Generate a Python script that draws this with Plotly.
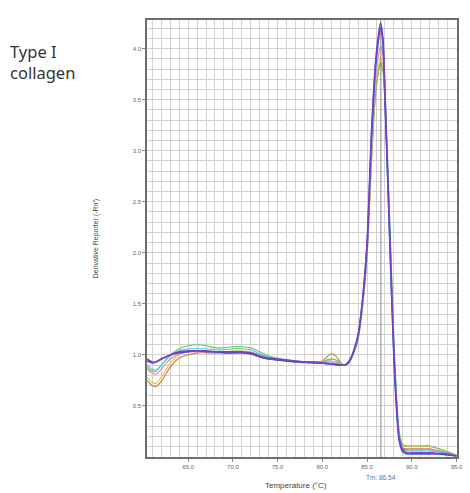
import plotly.graph_objects as go

temps = [60.4, 61.0, 61.4, 62.0, 63.0, 64.0, 65.0, 66.0, 67.0, 68.0, 69.0, 70.0, 71.0, 72.0, 73.0,
         74.0, 75.0, 76.0, 77.0, 78.0, 79.0, 80.0, 80.5, 81.0, 81.5, 82.0, 82.5, 83.0, 83.5, 84.0,
         84.5, 85.0, 85.5, 86.0, 86.5, 86.75, 87.0, 87.5, 88.0, 88.3, 88.6, 89.0, 89.5, 90.0, 91.0,
         92.0, 93.0, 94.0, 95.0]

orange = [0.75, 0.70, 0.69, 0.74, 0.88, 0.97, 1.00, 1.02, 1.02, 1.02, 1.02, 1.02, 1.02, 1.01, 0.98,
          0.96, 0.95, 0.94, 0.93, 0.93, 0.93, 0.94, 0.98, 1.01, 0.99, 0.93, 0.90, 0.93, 1.02, 1.16,
          1.48, 1.98, 2.92, 3.62, 3.86, 3.80, 3.45, 2.30, 1.05, 0.52, 0.20, 0.09, 0.08, 0.08, 0.08,
          0.08, 0.06, 0.04, 0.01]
yellow = [0.78, 0.73, 0.72, 0.78, 0.92, 1.00, 1.03, 1.04, 1.04, 1.03, 1.03, 1.04, 1.04, 1.03, 1.00,
          0.97, 0.96, 0.95, 0.94, 0.93, 0.93, 0.93, 0.95, 0.96, 0.95, 0.92, 0.90, 0.93, 1.02, 1.16,
          1.48, 1.98, 2.95, 3.65, 3.90, 3.85, 3.50, 2.35, 1.10, 0.55, 0.22, 0.11, 0.10, 0.10, 0.10,
          0.10, 0.08, 0.05, 0.02]
green = [0.88, 0.84, 0.84, 0.90, 1.00, 1.06, 1.09, 1.10, 1.09, 1.07, 1.07, 1.08, 1.08, 1.07, 1.03,
         0.99, 0.97, 0.95, 0.94, 0.93, 0.93, 0.93, 0.95, 0.96, 0.95, 0.92, 0.90, 0.93, 1.02, 1.16,
         1.48, 1.98, 2.90, 3.60, 3.84, 3.80, 3.50, 2.40, 1.15, 0.60, 0.25, 0.12, 0.11, 0.11, 0.11,
         0.11, 0.08, 0.05, 0.02]
pink = [0.86, 0.82, 0.81, 0.86, 0.96, 1.01, 1.03, 1.03, 1.03, 1.02, 1.02, 1.02, 1.02, 1.01, 0.98,
        0.96, 0.95, 0.94, 0.93, 0.92, 0.92, 0.92, 0.93, 0.93, 0.92, 0.91, 0.90, 0.93, 1.03, 1.18,
        1.50, 2.00, 3.00, 3.75, 4.02, 3.95, 3.50, 2.30, 1.05, 0.52, 0.20, 0.08, 0.07, 0.07, 0.07,
        0.07, 0.06, 0.04, 0.01]
cyan = [0.90, 0.86, 0.85, 0.90, 0.99, 1.04, 1.06, 1.06, 1.06, 1.05, 1.05, 1.06, 1.06, 1.05, 1.01,
        0.98, 0.96, 0.95, 0.94, 0.93, 0.93, 0.93, 0.94, 0.94, 0.93, 0.91, 0.90, 0.93, 1.03, 1.18,
        1.52, 2.05, 3.10, 3.85, 4.15, 4.10, 3.65, 2.40, 1.10, 0.55, 0.20, 0.08, 0.06, 0.06, 0.06,
        0.06, 0.05, 0.03, 0.01]
blue = [0.94, 0.92, 0.93, 0.96, 1.00, 1.02, 1.03, 1.04, 1.03, 1.03, 1.02, 1.02, 1.02, 1.01, 0.98,
        0.96, 0.95, 0.94, 0.93, 0.93, 0.92, 0.92, 0.91, 0.91, 0.90, 0.90, 0.90, 0.93, 1.03, 1.19,
        1.54, 2.08, 3.15, 3.88, 4.20, 4.08, 3.50, 2.20, 0.95, 0.45, 0.15, 0.05, 0.03, 0.03, 0.03,
        0.03, 0.03, 0.02, 0.01]
purple = [0.96, 0.93, 0.93, 0.96, 1.00, 1.03, 1.04, 1.04, 1.04, 1.03, 1.03, 1.03, 1.03, 1.02, 0.99,
          0.97, 0.96, 0.95, 0.94, 0.93, 0.93, 0.92, 0.92, 0.91, 0.91, 0.90, 0.90, 0.94, 1.04, 1.20,
          1.55, 2.10, 3.20, 3.92, 4.25, 4.12, 3.55, 2.25, 1.00, 0.50, 0.18, 0.07, 0.04, 0.04, 0.04,
          0.04, 0.035, 0.03, 0.01]

series_names = ["orange", "yellow", "green", "pink", "cyan", "blue", "purple"]
series_values = [orange, yellow, green, pink, cyan, blue, purple]
series_colors = ["#d27a3c", "#e6c24a", "#6cc46c", "#e58ab0", "#4fcbd8", "#3a52d6", "#7a3fc2"]
series_widths = [1.1, 1.1, 1.1, 1.1, 1.1, 1.5, 1.6]

tm_value = [86.54]
x_ticks = [65.0, 70.0, 75.0, 80.0, 85.0, 90.0, 95.0]
y_ticks = [0.5, 1.0, 1.5, 2.0, 2.5, 3.0, 3.5, 4.0]

fig = go.Figure()
for name, vals, col, w in zip(series_names, series_values, series_colors, series_widths):
    fig.add_trace(go.Scatter(x=temps, y=vals, mode="lines", name=name,
                             line=dict(color=col, width=w, shape="spline", smoothing=0.7),
                             showlegend=False, hoverinfo="skip"))

fig.add_vline(x=tm_value[0], line=dict(color="#6a6a6a", width=0.8))

grid_col = "#d2d2d2"
fig.update_xaxes(range=[60.4, 95.05], tickmode="array", tickvals=x_ticks,
                 ticktext=[f"{v:.1f}" for v in x_ticks],
                 tickfont=dict(size=6, color="#666", family="Arial"),
                 showgrid=True, gridcolor=grid_col, gridwidth=1,
                 minor=dict(dtick=1, tick0=60, showgrid=True, gridcolor=grid_col, gridwidth=1),
                 showline=True, linecolor="#6e6e6e", linewidth=1.5, mirror=True,
                 ticks="outside", ticklen=3, tickcolor="#888", zeroline=False)
fig.update_yaxes(range=[0.0, 4.28], tickmode="array", tickvals=y_ticks,
                 ticktext=[f"{v:.1f}" for v in y_ticks],
                 tickfont=dict(size=6, color="#666", family="Arial"),
                 showgrid=True, gridcolor=grid_col, gridwidth=1,
                 minor=dict(dtick=0.1, tick0=0, showgrid=True, gridcolor=grid_col, gridwidth=1),
                 showline=True, linecolor="#6e6e6e", linewidth=1.5, mirror=True,
                 ticks="outside", ticklen=3, tickcolor="#888", zeroline=False)

fig.add_annotation(text="Type I<br>collagen", xref="paper", yref="paper",
                   x=-0.447, y=0.905, xanchor="left", yanchor="middle", align="left",
                   showarrow=False, font=dict(size=16.5, color="#333", family="Noto Sans"))
fig.add_annotation(text="Derivative Reporter (-Rn')", xref="paper", yref="paper",
                   x=-0.165, y=0.5, xanchor="center", yanchor="middle", textangle=-90,
                   showarrow=False, font=dict(size=7, color="#444", family="Arial"))
fig.add_annotation(text="Temperature (°C)", xref="paper", yref="paper",
                   x=0.48, y=-0.066, xanchor="center", yanchor="middle",
                   showarrow=False, font=dict(size=8, color="#444", family="Arial"))
fig.add_annotation(text=f"Tm: {tm_value[0]:.2f}", xref="x", yref="paper",
                   x=tm_value[0], y=-0.048, xanchor="center", yanchor="middle",
                   showarrow=False, font=dict(size=6.5, color="#4a78b8", family="Arial"))

fig.update_layout(width=470, height=493, margin=dict(l=147, r=7, t=20, b=36),
                  plot_bgcolor="white", paper_bgcolor="white")

fig.write_html("out.html")
